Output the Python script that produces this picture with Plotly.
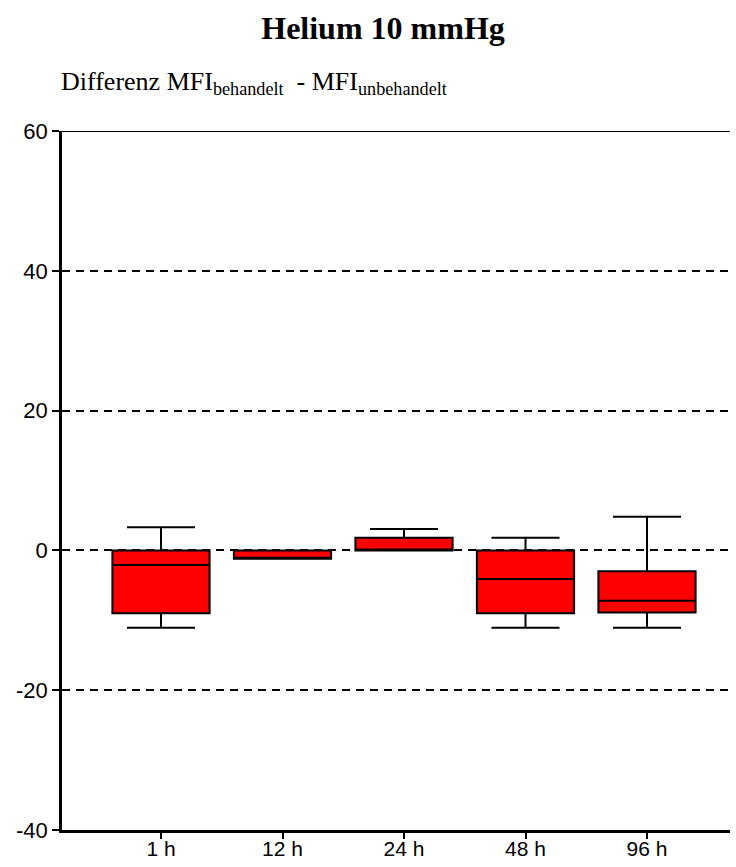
import plotly.graph_objects as go

# Box statistics per time point (difference treated - untreated MFI)
categories = ["1 h", "12 h", "24 h", "48 h", "96 h"]
lower_whisker = [-11.05, -1.2, 0.0, -11.05, -11.05]
q1_values = [-9.0, -1.2, 0.0, -9.0, -8.9]
median_values = [-2.1, -1.2, 0.0, -4.1, -7.2]
q3_values = [0.0, 0.0, 1.8, 0.0, -3.0]
upper_whisker = [3.3, 0.0, 3.05, 1.8, 4.8]

y_ticks = [-40, -20, 0, 20, 40, 60]
y_tick_labels = ["-40", "-20", "0", "20", "40", "60"]

W, H = 736, 867
ML, MR, MT, MB = 62, 6, 131, 37
PW, PH = W - ML - MR, H - MT - MB

fig = go.Figure()
fig.add_trace(go.Box(
    x=categories,
    lowerfence=lower_whisker,
    q1=q1_values,
    median=median_values,
    q3=q3_values,
    upperfence=upper_whisker,
    fillcolor="#FF0000",
    line=dict(color="black", width=2),
    whiskerwidth=0.7,
    width=0.8,
    boxpoints=False,
    showlegend=False,
    hoverinfo="skip",
))

# solid frame line along the top of the value axis
fig.add_shape(type="line", xref="paper", yref="y", x0=0, x1=1, y0=60, y1=60,
              line=dict(color="black", width=2))

fig.update_layout(
    width=W, height=H,
    margin=dict(l=ML, r=MR, t=MT, b=MB, autoexpand=False),
    paper_bgcolor="white", plot_bgcolor="white",
    title=dict(text="<b>Helium 10 mmHg</b>", x=383 / W, xanchor="center",
               y=1 - 28 / H, yanchor="middle",
               font=dict(family="Liberation Serif", size=32, color="black")),
    annotations=[dict(
        text="Differenz MFI<sub>behandelt</sub>  - MFI<sub>unbehandelt</sub>",
        xref="paper", yref="paper", x=(59 - ML) / PW, y=1 + (MT - 83) / PH,
        xanchor="left", yanchor="middle", showarrow=False,
        font=dict(family="Liberation Serif", size=26, color="black"))],
    xaxis=dict(
        type="category", range=[(ML - 161) / 121.5, (730 - 161) / 121.5],
        automargin=False,
        showline=True, linecolor="black", linewidth=2.5,
        ticks="outside", ticklen=6, tickwidth=1.5, tickcolor="black",
        ticklabelstandoff=-8,
        showgrid=False, zeroline=False,
        tickfont=dict(family="Liberation Sans", size=21, color="black"),
    ),
    yaxis=dict(
        range=[-40, 60], tickvals=y_ticks, ticktext=y_tick_labels,
        automargin=False,
        showline=True, linecolor="black", linewidth=2.5,
        ticks="outside", ticklen=7, tickwidth=2, tickcolor="black",
        showgrid=True, gridcolor="black", gridwidth=1.5, griddash="8px,6px",
        zeroline=False,
        tickfont=dict(family="Liberation Sans", size=22, color="black"),
    ),
)

fig.write_html("out.html")
